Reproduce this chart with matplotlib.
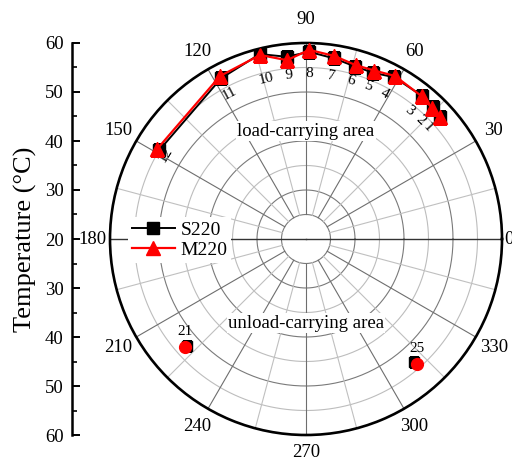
import numpy as np
import matplotlib.pyplot as plt
from matplotlib.ticker import MultipleLocator

plt.rcParams['font.family'] = ['Liberation Serif', 'DejaVu Serif']

# sensor numbers, positions (deg) and temperatures (degC)
load_ids = ['1', '2', '3', '4', '5', '6', '7', '8', '9', '10', '11', '12']
load_angles = [42.4, 46.2, 51.0, 61.4, 67.9, 74.0, 81.2, 89.0, 96.1, 104.0, 117.8, 148.9]
s220_load = [56.9, 57.4, 57.6, 57.6, 56.6, 56.6, 57.3, 58.2, 57.4, 58.9, 57.1, 55.0]
m220_load = [57.0, 57.1, 57.5, 57.9, 57.1, 56.9, 57.8, 58.6, 56.7, 58.7, 57.6, 55.5]

unload_ids = ['21', '25']
unload_angles = [221.8, 311.5]
s220_unload = [52.7, 53.4]
m220_unload = [53.0, 54.1]

r_min, r_max = 20, 60
angle_ticks = list(range(0, 360, 30))
left_ticks = [60, 50, 40, 30, 20, 30, 40, 50, 60]

W, H = 512, 461
fig = plt.figure(figsize=(W / 100, H / 100), dpi=100)

# polar plot: centre (306, 239) px, radius 196 px
cx, cy, R = 306, 239, 196
ax = fig.add_axes([(cx - R) / W, (H - cy - R) / H, 2 * R / W, 2 * R / H], projection='polar')
ax.set_ylim(r_min, r_max)
ax.grid(False)
ax.set_yticks([])
ax.spines['polar'].set_linewidth(1.9)

px = R / (r_max - r_min)  # pixels per degC
th = np.linspace(0, 2 * np.pi, 400)

# circular grid
for r in range(25, 60, 5):
    col = '#7a7a7a' if r % 10 == 0 or r == 25 else '#bdbdbd'
    ax.plot(th, np.full_like(th, r), color=col, lw=0.8, zorder=1)
# radial grid
for a in range(0, 360, 15):
    if a in (0, 180):
        continue
    col = '#6e6e6e' if a % 30 == 0 else '#c0c0c0'
    ax.plot([np.radians(a)] * 2, [25, r_max], color=col, lw=0.8, zorder=1)
ax.plot([0, 0], [r_min, r_max], color='#333333', lw=1.0, zorder=1)
ax.plot([np.pi, np.pi], [r_min, r_max], color='#333333', lw=1.0, zorder=1)

# theta ticks on the outer circle
ax.set_xticks(np.radians(angle_ticks))
ax.set_xticklabels([])
ax.set_xticks(np.radians(np.arange(15, 360, 30)), minor=True)
ax.tick_params(axis='x', which='major', direction='in', length=8, width=1.4, color='black')
ax.tick_params(axis='x', which='minor', direction='in', length=5, width=1.2, color='black')

label_px = {0: 203, 90: 220, 180: 214, 270: 213}
for a in angle_ticks:
    rr = r_min + label_px.get(a, 217) / px
    ax.text(np.radians(a), rr, str(a), fontsize=13.5, ha='center', va='center', clip_on=False)

# data
t_load = np.radians(load_angles)
t_unload = np.radians(unload_angles)
ax.plot(t_load, s220_load, color='black', lw=1.4, marker='s', ms=8.5, zorder=4, label='S220')
ax.plot(t_load, m220_load, color='red', lw=1.6, marker='^', ms=9.5, zorder=5, label='M220')
ax.plot(t_unload, s220_unload, ls='none', color='black', marker='s', ms=7, zorder=4)
ax.plot(t_unload, m220_unload, ls='none', color='red', marker='o', ms=8.5, zorder=5)

# sensor numbers
lab_r = r_min + 165 / px
for name, a in zip(load_ids, load_angles):
    rr = lab_r if name != '12' else r_min + 164 / px
    ax.text(np.radians(a), rr, name, fontsize=11, rotation=a - 90, rotation_mode='anchor',
            ha='center', va='center', zorder=3)
for name, a, t in zip(unload_ids, unload_angles, m220_unload):
    ax.annotate(name, xy=(np.radians(a), t), xytext=(0, 11), textcoords='offset points',
                fontsize=11, ha='center', va='center')

ax.text(np.pi / 2, r_min + 108 / px, 'load-carrying area', fontsize=13.5, ha='center', va='center',
        bbox=dict(facecolor='white', edgecolor='none', pad=1), zorder=3)
ax.text(3 * np.pi / 2, r_min + 84 / px, 'unload-carrying area', fontsize=13.5, ha='center', va='center',
        bbox=dict(facecolor='white', edgecolor='none', pad=1), zorder=3)

leg = ax.legend(loc='center left', bbox_to_anchor=(128 / W, (H - 240) / H),
                bbox_transform=fig.transFigure, fontsize=14, frameon=True, fancybox=False,
                edgecolor='none', facecolor='white', framealpha=1, handlelength=2.2,
                handletextpad=0.3, borderpad=0.2, labelspacing=0.15, borderaxespad=0)
leg.set_zorder(6)

# left temperature axis
lax = fig.add_axes([72 / W, (H - cy - R) / H, 0.002, 2 * R / H])
lax.set_ylim(-40, 40)
for s in ['top', 'right', 'bottom']:
    lax.spines[s].set_visible(False)
lax.spines['left'].set_linewidth(1.8)
lax.patch.set_visible(False)
lax.set_xticks([])
lax.set_yticks(np.arange(40, -41, -10))
lax.set_yticklabels([str(v) for v in left_ticks])
lax.yaxis.set_minor_locator(MultipleLocator(5))
lax.tick_params(axis='y', which='major', direction='in', length=6, width=1.4, pad=6, labelsize=13.5)
lax.tick_params(axis='y', which='minor', direction='in', length=3.5, width=1.2)
lax.set_ylabel('Temperature (°C)', fontsize=19, labelpad=6)

fig.savefig('out.png', dpi=100)
